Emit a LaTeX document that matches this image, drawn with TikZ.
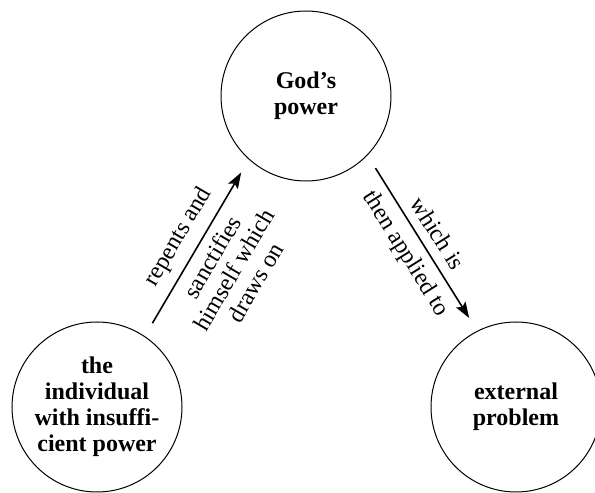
\documentclass[tikz,border=0pt]{standalone}
\usepackage{fontspec}
\setmainfont{Liberation Serif}
\usetikzlibrary{arrows.meta}

\begin{document}
\begin{tikzpicture}[x=1pt,y=1pt,line width=1pt,
  blob/.style={draw,circle,minimum size=170pt,inner sep=0pt,align=center,
    font=\fontsize{24}{26}\selectfont\bfseries},
  flow/.style={line width=1.6pt,-{Stealth[length=16pt,width=11pt,inset=3pt]},
    shorten <=15pt,shorten >=15pt},
  lbl/.style={font=\fontsize{24}{25}\selectfont,align=center,sloped,midway}]
\path[use as bounding box] (0,0) rectangle (595,493);
\node[blob] (god) at (306,397) {God’s\\power};
\node[blob] (ind) at (97,86) {the\\individual\\with insuffi-\\cient power};
\node[blob] (ext) at (516,86) {external\\problem};
\draw[flow] (ind.56) -- (god.228)
  node[lbl,above=6pt] {repents and}
  node[lbl,below=5pt] {sanctifies\\himself which\\draws on};
\draw[flow] (god.316) -- (ext.117)
  node[lbl,above=6pt] {which is}
  node[lbl,below=5pt] {then applied to};
\end{tikzpicture}
\end{document}
